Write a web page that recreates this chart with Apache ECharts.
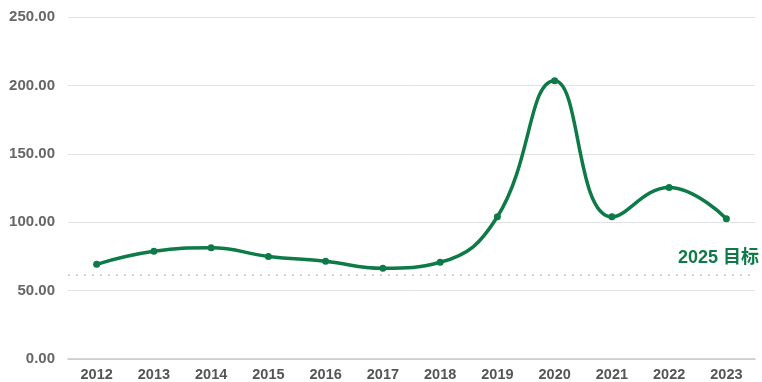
<!DOCTYPE html>
<html>
<head>
<meta charset="utf-8">
<script src="https://cdn.jsdelivr.net/npm/echarts@6/dist/echarts.min.js"></script>
<style>
  html, body { margin: 0; padding: 0; background: #fff; }
  #chart { width: 762px; height: 382px; }
</style>
</head>
<body>
<div id="chart"></div>
<script>
// Yearly values and the 2025 target level
const years = ['2012', '2013', '2014', '2015', '2016', '2017', '2018', '2019', '2020', '2021', '2022', '2023'];
const values = [69.2, 78.7, 81.3, 75.0, 71.4, 66.3, 70.7, 104.0, 203.4, 103.9, 125.4, 102.6];
const targetValue = 61.5;
const targetLabel = '2025 目标';

const green = '#0d7a47';
const chart = echarts.init(document.getElementById('chart'));
chart.setOption({
  animation: false,
  grid: { left: 68, right: 7, top: 17, bottom: 22 },
  xAxis: {
    type: 'category',
    data: years,
    boundaryGap: true,
    axisLine: { lineStyle: { color: '#c8c8c8', width: 1.5 } },
    axisTick: { show: false },
    axisLabel: {
      color: '#555',
      fontFamily: 'Liberation Sans, Arial, sans-serif',
      fontWeight: 'bold',
      fontSize: 14.5,
      margin: 8
    }
  },
  yAxis: {
    type: 'value',
    min: 0,
    max: 250,
    interval: 50,
    axisLine: { show: false },
    axisTick: { show: false },
    splitLine: { lineStyle: { color: '#e2e2e2', width: 1 } },
    axisLabel: {
      color: '#666',
      fontFamily: 'Liberation Sans, Arial, sans-serif',
      fontWeight: 'bold',
      fontSize: 15,
      margin: 13,
      formatter: v => v.toFixed(2)
    }
  },
  series: [{
    type: 'line',
    data: values,
    smooth: 0.45,
    symbol: 'circle',
    symbolSize: 7,
    itemStyle: { color: green },
    lineStyle: { color: green, width: 3.5 },
    markLine: {
      silent: true,
      symbol: 'none',
      lineStyle: { color: '#c4dcc6', type: [2, 6], width: 2 },
      label: {
        show: true,
        position: 'insideEndTop',
        formatter: targetLabel,
        color: green,
        fontFamily: 'Liberation Sans, Noto Sans CJK SC, sans-serif',
        fontWeight: 'bold',
        fontSize: 18,
        distance: [ -4, 8 ]
      },
      data: [{ yAxis: targetValue }]
    }
  }]
});
</script>
</body>
</html>
